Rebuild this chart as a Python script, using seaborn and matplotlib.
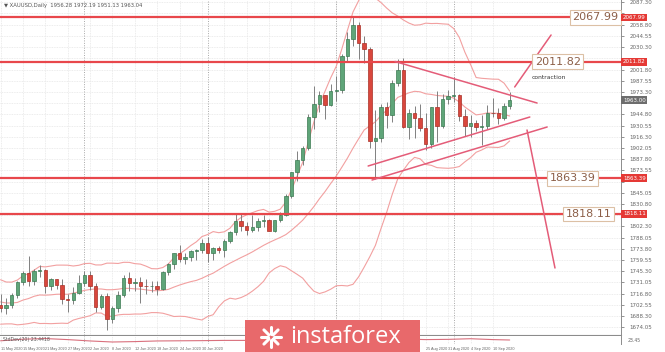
import numpy as np
import pandas as pd
import matplotlib
matplotlib.use("Agg")
import matplotlib.pyplot as plt
import matplotlib.transforms as mtrans
from matplotlib.patches import Rectangle
from matplotlib.lines import Line2D
import seaborn as sns

# ---------------- data (XAUUSD daily, 11 May 2020 .. 15 Sep 2020) ----------------
opens = [1702, 1698, 1702, 1715, 1731, 1743, 1733, 1745, 1747, 1726, 1735, 1728, 1710, 1709, 1718,
         1730, 1740, 1727, 1700, 1714, 1685, 1698, 1715, 1737, 1730, 1731, 1727, 1726, 1727, 1723,
         1744, 1754, 1768, 1761, 1763, 1771, 1772, 1781, 1769, 1775, 1772, 1784, 1795, 1809, 1803,
         1798, 1802, 1809, 1810, 1796, 1810, 1817, 1841, 1871, 1887, 1902, 1941, 1958, 1970, 1957,
         1975, 1976, 2019, 2040, 2058, 2035, 2028, 1911, 1915, 1954, 1944, 1985, 2001, 1929, 1946,
         1940, 1928, 1907, 1954, 1930, 1964, 1968, 1970, 1943, 1930, 1934, 1929, 1930, 1947, 1946,
         1940, 1956]
highs = [1716, 1711, 1717, 1733, 1745, 1765, 1748, 1753, 1748, 1737, 1736, 1735, 1716, 1725, 1740,
         1745, 1745, 1730, 1716, 1717, 1701, 1720, 1740, 1744, 1737, 1738, 1736, 1733, 1733, 1746,
         1756, 1769, 1779, 1768, 1772, 1774, 1786, 1789, 1776, 1777, 1786, 1797, 1818, 1818, 1808,
         1817, 1813, 1817, 1812, 1811, 1821, 1843, 1872, 1898, 1905, 1945, 1981, 1975, 1970, 1984,
         1994, 2021, 2050, 2068, 2062, 2045, 2031, 1950, 1958, 1961, 1989, 2015, 2016, 1952, 1955,
         1958, 1946, 1954, 1975, 1971, 1976, 1992, 1971, 1951, 1944, 1937, 1944, 1957, 1965, 1953,
         1959, 1973]
lows = [1694, 1691, 1699, 1711, 1728, 1726, 1728, 1738, 1717, 1722, 1723, 1703, 1693, 1703, 1716,
        1726, 1721, 1693, 1697, 1670, 1680, 1694, 1713, 1720, 1720, 1705, 1716, 1719, 1715, 1721,
        1740, 1748, 1757, 1754, 1758, 1759, 1768, 1757, 1760, 1768, 1763, 1781, 1792, 1796, 1791,
        1795, 1797, 1801, 1796, 1795, 1808, 1816, 1838, 1860, 1880, 1899, 1926, 1948, 1939, 1956,
        1962, 1972, 2011, 2032, 2015, 2010, 1902, 1863, 1909, 1928, 1935, 1981, 1928, 1913, 1915,
        1924, 1900, 1902, 1910, 1928, 1958, 1961, 1936, 1917, 1916, 1924, 1906, 1926, 1941, 1933,
        1937, 1951]
closes = [1698, 1702, 1715, 1731, 1743, 1733, 1745, 1747, 1726, 1735, 1728, 1710, 1709, 1718, 1730,
          1740, 1727, 1700, 1714, 1685, 1698, 1715, 1737, 1730, 1731, 1727, 1726, 1727, 1723, 1744,
          1754, 1768, 1761, 1763, 1771, 1772, 1781, 1769, 1775, 1772, 1784, 1795, 1809, 1803, 1798,
          1802, 1809, 1810, 1796, 1810, 1817, 1841, 1871, 1887, 1902, 1941, 1958, 1970, 1957, 1975,
          1976, 2019, 2040, 2058, 2035, 2028, 1911, 1915, 1954, 1944, 1985, 2001, 1929, 1946, 1940,
          1928, 1907, 1954, 1930, 1964, 1968, 1970, 1943, 1930, 1934, 1929, 1930, 1947, 1946, 1940,
          1956, 1963]
# closes before 11 May, only used to warm up the Bollinger Bands (20, 2)
warmup_closes = [1727, 1716, 1717, 1683, 1694, 1687, 1714, 1731, 1727, 1713, 1707, 1713, 1686,
                 1700, 1702, 1705, 1685, 1716, 1703]

date_labels = ["11 May 2020", "15 May 2020", "21 May 2020", "27 May 2020", "2 Jun 2020",
               "8 Jun 2020", "12 Jun 2020", "18 Jun 2020", "24 Jun 2020", "30 Jun 2020",
               "6 Jul 2020", "10 Jul 2020", "16 Jul 2020", "22 Jul 2020", "28 Jul 2020",
               "3 Aug 2020", "7 Aug 2020", "13 Aug 2020", "19 Aug 2020", "25 Aug 2020",
               "31 Aug 2020", "4 Sep 2020", "10 Sep 2020"]
date_label_idx = [0, 4, 8, 12, 16, 20, 24, 28, 32, 36, 40, 44, 48, 52, 56, 60, 64, 68, 72, 76,
                  80, 84, 88]
month_start_idx = [15, 37, 60, 81]

price_ticks = [2087.30, 2073.05, 2058.80, 2044.55, 2030.30, 2016.05, 2001.80, 1987.55, 1973.30,
               1959.05, 1944.80, 1930.55, 1916.30, 1902.05, 1887.80, 1873.55, 1859.30, 1845.05,
               1830.80, 1816.55, 1802.30, 1788.05, 1773.80, 1759.55, 1745.30, 1731.05, 1716.80,
               1702.55, 1688.30, 1674.05]

levels = [2067.99, 2011.82, 1863.39, 1818.11]
level_texts = ["2067.99", "2011.82", "1863.39", "1818.11"]

# trend lines drawn on the chart: (x0, p0, x1, p1) in candle index / price
triangle_top = [70.5, 2012.0, 95.9, 1959.2]
triangle_low_a = [65.7, 1879.1, 94.6, 1941.4]
triangle_low_b = [66.4, 1861.3, 97.7, 1928.7]
breakout_up = [91.9, 1979.6, 98.4, 2045.7]
breakout_down = [94.1, 1924.9, 99.1, 1749.4]

# lower indicator pane (0..1 of pane height)
ind_idx = [0, 4, 8, 12, 16, 20, 24, 28, 32, 36, 40, 44, 48, 52, 56, 60, 64, 68, 72, 76, 80, 84,
           88, 91]
ind_vals = [0.40, 0.60, 0.68, 0.55, 0.38, 0.25, 0.30, 0.38, 0.40, 0.42, 0.45, 0.45, 0.48, 0.50,
            0.55, 0.60, 0.66, 0.70, 0.62, 0.55, 0.58, 0.66, 0.55, 0.50]

# ---------------- figure ----------------
sns.set_style("white")
plt.rcParams["font.family"] = ["DejaVu Sans"]

W, H = 665, 352
fig = plt.figure(figsize=(W / 100, H / 100), dpi=100)
fig.patch.set_facecolor("white")

def fx(px):
    return px / W

def fy(py):
    return 1 - py / H

PLOT_R = 621
ax = fig.add_axes([0, fy(335), fx(PLOT_R), 335 / H])
axi = fig.add_axes([0, fy(344), fx(PLOT_R), 8 / H], sharex=ax)

o = np.array(opens, float)
h = np.array(highs, float)
l = np.array(lows, float)
c = np.array(closes, float)
x = np.arange(len(c))

XMIN, XMAX = -0.1, 110.9
YMIN, YMAX = 1664.2, 2090.2
ax.set_xlim(XMIN, XMAX)
ax.set_ylim(YMIN, YMAX)
px_per_unit = PLOT_R / (XMAX - XMIN)
px_per_price = 335 / (YMAX - YMIN)

# grid
for t in price_ticks:
    ax.axhline(t, color="#e6e6e6", lw=0.6, ls=(0, (1, 1)), zorder=0)
for t in date_label_idx:
    ax.axvline(t, color="#e6e6e6", lw=0.6, ls=(0, (1, 1)), zorder=0)
    axi.axvline(t, color="#e6e6e6", lw=0.6, ls=(0, (1, 1)), zorder=0)
for t in month_start_idx:
    ax.axvline(t, color="#a8a8a8", lw=0.7, ls=(0, (1, 1.5)), zorder=1)
    axi.axvline(t, color="#a8a8a8", lw=0.7, ls=(0, (1, 1.5)), zorder=1)

# Bollinger bands (20, 2) computed from the closes
allc = pd.Series(list(warmup_closes) + list(closes), dtype=float)
ma = allc.rolling(20).mean()
sd = allc.rolling(20).std(ddof=0)
nw = len(warmup_closes)
bb = pd.DataFrame({
    "idx": np.concatenate([x, x, x]),
    "val": np.concatenate([(ma + 2 * sd).values[nw:], ma.values[nw:], (ma - 2 * sd).values[nw:]]),
    "band": ["upper"] * len(x) + ["mid"] * len(x) + ["lower"] * len(x),
})
sns.lineplot(data=bb, x="idx", y="val", units="band", estimator=None, color="#f2a0a0",
             lw=0.8, ax=ax, zorder=2, legend=False)

# candles
up = c >= o
ax.vlines(x, l, h, color="#808080", lw=0.7, zorder=3)
body = np.where(np.abs(c - o) < 1.0, 1.0, c - o)
ax.bar(x[up], body[up], bottom=o[up], width=0.62, color="#5fa579", edgecolor="#3c7a52",
       lw=0.5, zorder=4)
ax.bar(x[~up], body[~up], bottom=o[~up], width=0.62, color="#d9473d", edgecolor="#a83027",
       lw=0.5, zorder=4)

# support / resistance lines
blend = mtrans.blended_transform_factory(ax.transAxes, ax.transData)
level_box_x = [106.3, 99.6, 102.2, 105.1]
for lv, txt, bx in zip(levels, level_texts, level_box_x):
    ax.axhline(lv, color="#e8474b", lw=1.6, zorder=5)
    ax.text(bx, lv, txt, ha="center", va="center", fontsize=8, color="#8c5f48", zorder=8,
            bbox=dict(boxstyle="square,pad=0.22", fc="white", ec="#dcc0a5", lw=0.8))
    ax.text(1.003, lv, txt, transform=blend, ha="left", va="center", fontsize=4.0,
            color="white", zorder=9, clip_on=False,
            bbox=dict(boxstyle="square,pad=0.25", fc="#e53935", ec="none"))

# current price tag
ax.text(1.003, c[-1], f"{c[-1]:.2f}", transform=blend, ha="left", va="center", fontsize=4.0,
        color="white", zorder=9, clip_on=False,
        bbox=dict(boxstyle="square,pad=0.25", fc="#6d6d6d", ec="none"))

# triangle & projections
for seg in [triangle_top, triangle_low_a, triangle_low_b, breakout_up, breakout_down]:
    ax.plot([seg[0], seg[2]], [seg[1], seg[3]], color="#e45c78", lw=1.1, zorder=6,
            solid_capstyle="round")
ax.text(95.0, 1992.0, "contraction", fontsize=4.3, color="#333333", ha="left", va="center",
        zorder=7)

# axes styling: price scale on the right (labels hidden where a tag sits on top)
tags = levels + [c[-1]]
shown = [t for t in price_ticks if min(abs(t - g) for g in tags) * px_per_price > 6.5]
ax.yaxis.tick_right()
ax.set_yticks(price_ticks)
ax.set_yticklabels([f"{t:.2f}" if t in shown else "" for t in price_ticks])
ax.tick_params(axis="y", labelsize=4.0, colors="#666666", length=2, width=0.5, pad=4)
ax.tick_params(axis="x", bottom=False, labelbottom=False)
ax.set_xlabel("")
ax.set_ylabel("")
for s in ["left", "top"]:
    ax.spines[s].set_visible(False)
ax.spines["right"].set_color("#8c8c8c")
ax.spines["right"].set_linewidth(0.7)
ax.spines["bottom"].set_color("#8c8c8c")
ax.spines["bottom"].set_linewidth(0.8)

# indicator pane
ind = pd.DataFrame({"idx": ind_idx, "v": ind_vals})
sns.lineplot(data=ind, x="idx", y="v", color="#d9707d", lw=0.8, ax=axi, legend=False)
axi.set_ylim(0, 1)
axi.set_xlim(XMIN, XMAX)
axi.set_yticks([])
# date labels; the ones under the watermark block are hidden in the reference
WM_L, WM_R = 245, 420
vis = [(i, s) for i, s in zip(date_label_idx, date_labels)
       if not (WM_L - 22 < (i - XMIN) * px_per_unit < WM_R)]
axi.set_xticks([v[0] for v in vis])
axi.set_xticklabels([v[1] for v in vis], ha="left", family=["Liberation Sans", "DejaVu Sans"])
axi.tick_params(axis="x", labelsize=2.7, colors="#666666", length=0, pad=2)
axi.set_xlabel("")
axi.set_ylabel("")
for s in ["left", "top", "bottom"]:
    axi.spines[s].set_visible(False)
axi.spines["right"].set_color("#8c8c8c")
axi.spines["right"].set_linewidth(0.7)
axi.text(0.005, 0.5, "StdDev(20) 23.4418", transform=axi.transAxes, fontsize=3.3,
         color="#555555", va="center")
axi.text(1.01, 0.5, "23.45", transform=axi.transAxes, fontsize=3.3, color="#666666",
         va="center", clip_on=False)

# header
fig.text(fx(4), fy(6), "\u25bc XAUUSD,Daily  1956.28 1972.19 1951.13 1963.04", fontsize=3.8,
         color="#555555", va="center")

# watermark
fig.patches.append(Rectangle((fx(WM_L), 0), fx(WM_R - WM_L), 32 / H, transform=fig.transFigure,
                             fc="#e8696b", ec="none", zorder=10))
fig.text(fx(290), fy(337), "instaforex", fontsize=17, color="white", ha="left", va="center",
         family=["Open Sans", "DejaVu Sans"], zorder=11)
cx, cy = 271, 337
for k in range(8):
    ang = np.pi * k / 4
    x0, y0 = cx + 3 * np.cos(ang), cy + 3 * np.sin(ang)
    x1, y1 = cx + 10 * np.cos(ang), cy + 10 * np.sin(ang)
    fig.lines.append(Line2D([fx(x0), fx(x1)], [fy(y0), fy(y1)], transform=fig.transFigure,
                            color="white", lw=2.2, solid_capstyle="round", zorder=11))

fig.savefig("out.png", dpi=100, facecolor="white")
